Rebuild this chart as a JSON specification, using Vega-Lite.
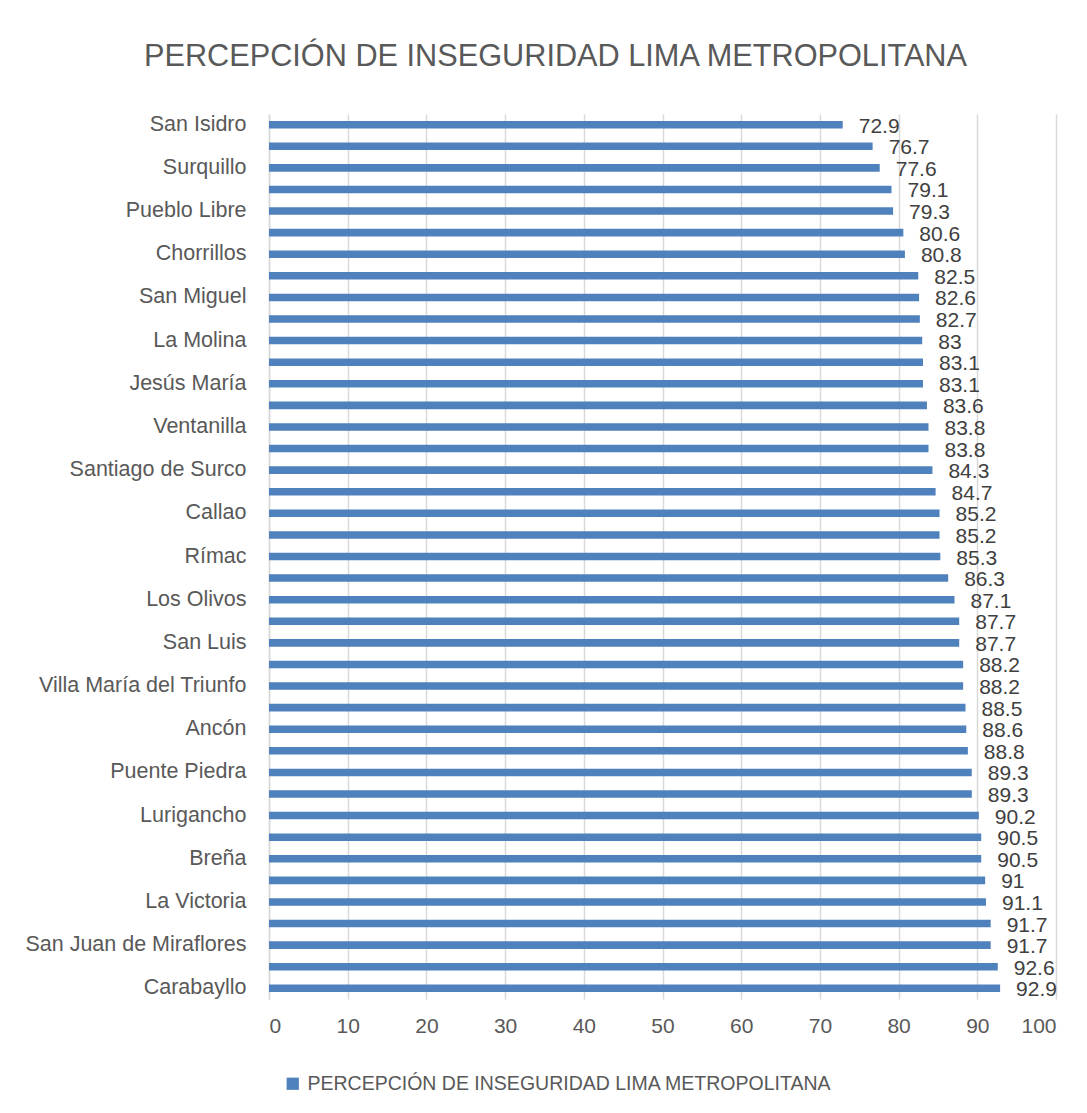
{
  "$schema": "https://vega.github.io/schema/vega-lite/v6.json",
  "autosize": "none",
  "width": 787,
  "height": 885,
  "padding": {"left": 269, "top": 114, "right": 31, "bottom": 114},
  "background": "white",
  "title": {
    "text": "PERCEPCIÓN DE INSEGURIDAD LIMA METROPOLITANA",
    "font": "Liberation Sans",
    "fontSize": 30.7,
    "fontWeight": "normal",
    "color": "#595959",
    "anchor": "middle",
    "dx": -107,
    "offset": 40
  },
  "data": {
    "values": [
      {"district": "San Isidro", "value": 72.9},
      {"district": " ", "value": 76.7},
      {"district": "Surquillo", "value": 77.6},
      {"district": "  ", "value": 79.1},
      {"district": "Pueblo Libre", "value": 79.3},
      {"district": "   ", "value": 80.6},
      {"district": "Chorrillos", "value": 80.8},
      {"district": "    ", "value": 82.5},
      {"district": "San Miguel", "value": 82.6},
      {"district": "     ", "value": 82.7},
      {"district": "La Molina", "value": 83},
      {"district": "      ", "value": 83.1},
      {"district": "Jesús María", "value": 83.1},
      {"district": "       ", "value": 83.6},
      {"district": "Ventanilla", "value": 83.8},
      {"district": "        ", "value": 83.8},
      {"district": "Santiago de Surco", "value": 84.3},
      {"district": "         ", "value": 84.7},
      {"district": "Callao", "value": 85.2},
      {"district": "          ", "value": 85.2},
      {"district": "Rímac", "value": 85.3},
      {"district": "           ", "value": 86.3},
      {"district": "Los Olivos", "value": 87.1},
      {"district": "            ", "value": 87.7},
      {"district": "San Luis", "value": 87.7},
      {"district": "             ", "value": 88.2},
      {"district": "Villa María del Triunfo", "value": 88.2},
      {"district": "              ", "value": 88.5},
      {"district": "Ancón", "value": 88.6},
      {"district": "               ", "value": 88.8},
      {"district": "Puente Piedra", "value": 89.3},
      {"district": "                ", "value": 89.3},
      {"district": "Lurigancho", "value": 90.2},
      {"district": "                 ", "value": 90.5},
      {"district": "Breña", "value": 90.5},
      {"district": "                  ", "value": 91},
      {"district": "La Victoria", "value": 91.1},
      {"district": "                   ", "value": 91.7},
      {"district": "San Juan de Miraflores", "value": 91.7},
      {"district": "                    ", "value": 92.6},
      {"district": "Carabayllo", "value": 92.9}
    ]
  },
  "encoding": {
    "y": {
      "field": "district",
      "type": "nominal",
      "sort": null,
      "scale": {"paddingInner": 0.65, "paddingOuter": 0.32},
      "axis": {
        "title": null,
        "ticks": false,
        "domain": true,
        "domainColor": "#d9d9d9",
        "domainWidth": 1.5,
        "labelFont": "Liberation Sans",
        "labelFontSize": 21.5,
        "labelColor": "#595959",
        "labelPadding": 23,
        "labelLimit": 300
      }
    },
    "x": {
      "field": "value",
      "type": "quantitative",
      "scale": {"domain": [0, 100], "nice": false},
      "axis": {
        "title": null,
        "values": [0, 10, 20, 30, 40, 50, 60, 70, 80, 90, 100],
        "domain": false,
        "ticks": false,
        "grid": true,
        "gridColor": "#d9d9d9",
        "gridWidth": 1.5,
        "labelFont": "Liberation Sans",
        "labelFontSize": 21,
        "labelColor": "#595959",
        "labelPadding": 16
      }
    }
  },
  "layer": [
    {
      "mark": {"type": "bar"},
      "encoding": {
        "color": {
          "datum": "PERCEPCIÓN DE INSEGURIDAD LIMA METROPOLITANA",
          "type": "nominal",
          "scale": {"range": ["#4f81bd"]},
          "legend": {
            "title": null,
            "orient": "none",
            "legendX": 14,
            "legendY": 960,
            "symbolType": "square",
            "symbolSize": 150,
            "symbolStrokeWidth": 0,
            "labelFont": "Liberation Sans",
            "labelFontSize": 19.5,
            "labelColor": "#595959",
            "labelLimit": 800,
            "labelOffset": 5
          }
        }
      }
    },
    {
      "mark": {
        "type": "text",
        "align": "left",
        "baseline": "middle",
        "dx": 16,
        "dy": 2,
        "font": "Liberation Sans",
        "fontSize": 21,
        "color": "#404040"
      },
      "encoding": {
        "text": {"field": "value", "type": "quantitative"}
      }
    }
  ],
  "config": {"view": {"stroke": null}}
}
